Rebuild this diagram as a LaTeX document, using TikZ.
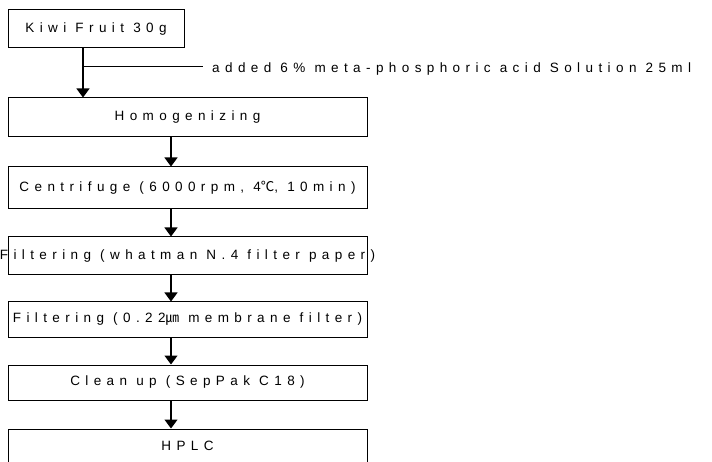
\documentclass[tikz,border=0pt]{standalone}
\usepackage{fontspec}
\setmainfont{Liberation Sans}[LetterSpace=40]
\newfontfamily\cjk{Noto Sans CJK KR}[LetterSpace=40]
\usetikzlibrary{arrows.meta}
\begin{document}
\begin{tikzpicture}[x=1pt,y=-1pt,
  box/.style={draw, line width=1pt, inner sep=0pt, minimum width=359pt,
    font=\fontsize{13.5}{16}\selectfont},
  flow/.style={-{Triangle[width=13pt,length=9pt]}, line width=1.3pt},
  note/.style={anchor=west, inner sep=0pt, font=\fontsize{13.5}{16}\selectfont}]
\useasboundingbox (0,0) rectangle (712,462);
\clip (0,0) rectangle (712,462);
\node[box, minimum width=176pt, minimum height=38pt] (kiwi) at (96,29) {\makebox[0pt]{Kiwi Fruit 30g}};
\node[box, minimum height=39pt] (homog) at (187.5,117.5) {\makebox[0pt]{Homogenizing}};
\node[box, minimum height=42pt] (centri) at (187.5,188) {\makebox[0pt]{Centrifuge (6000rpm, 4{\cjk ℃}, 10min)}};
\node[box, minimum height=38pt] (filt1) at (187.5,256) {\makebox[0pt]{Filtering (whatman N.4 filter paper)}};
\node[box, minimum height=35pt] (filt2) at (187.5,319.5) {\makebox[0pt]{Filtering (0.22{\cjk ㎛} membrane filter)}};
\node[box, minimum height=35pt] (clean) at (187.5,382.5) {\makebox[0pt]{Clean up (SepPak C18)}};
\node[box, minimum height=44pt] (hplc) at (187.5,451) {\makebox[0pt]{\raisebox{11pt}{HPLC}}};
\node[note] (added) at (212,69) {added 6\% meta-phosphoric acid Solution 25ml};
\draw[flow] ([xshift=-13pt]kiwi.south) -- ([xshift=-13pt]kiwi.south |- homog.north);
\draw[line width=1pt] ([xshift=-13pt]kiwi.south |- 0,67) coordinate (br) -- ([xshift=-9pt]added.west |- br);
\draw[flow] ([xshift=-16.5pt]homog.south) -- ([xshift=-16.5pt]centri.north);
\draw[flow] ([xshift=-16.5pt]centri.south) -- ([xshift=-16.5pt]filt1.north);
\draw[flow] ([xshift=-16.5pt]filt1.south) -- ([xshift=-16.5pt]filt2.north);
\draw[flow] ([xshift=-16.5pt]filt2.south) -- ([xshift=-16.5pt]clean.north);
\draw[flow] ([xshift=-16.5pt]clean.south) -- ([xshift=-16.5pt]hplc.north);
\end{tikzpicture}
\end{document}
